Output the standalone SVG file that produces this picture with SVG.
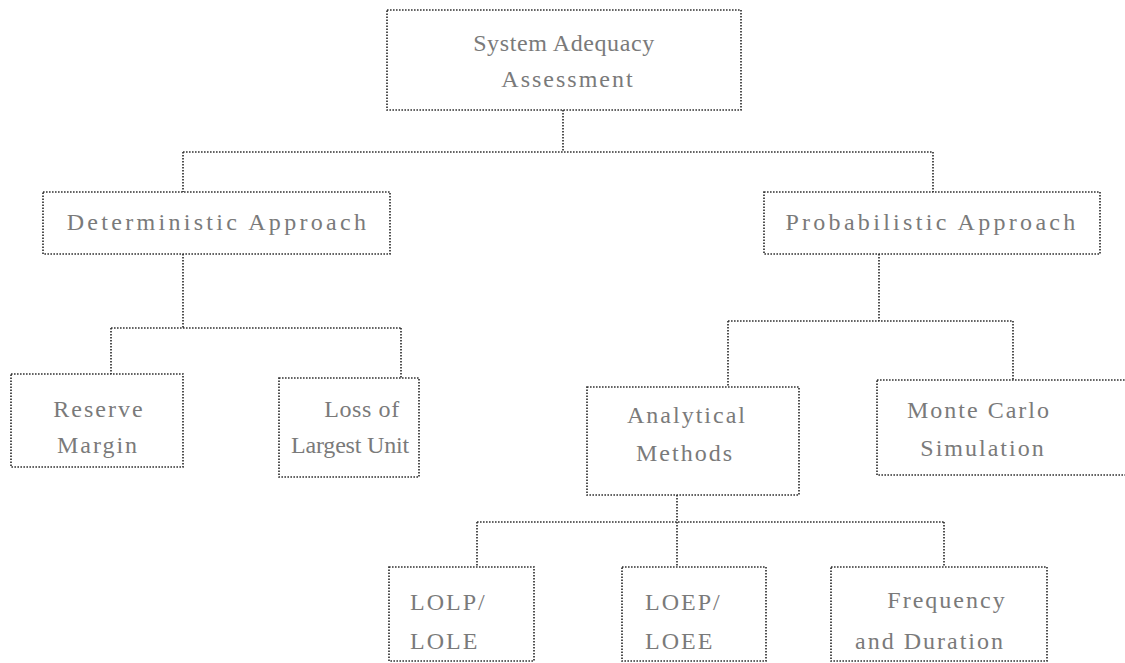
<svg xmlns="http://www.w3.org/2000/svg" width="1125" height="663" viewBox="0 0 1125 663">
<style>
.box{fill:#fff;stroke:#333;stroke-width:1.7;stroke-dasharray:1.6 1.4}
.con{fill:none;stroke:#333;stroke-width:1.7;stroke-dasharray:1.6 1.4}
.t{font-family:"Liberation Serif","Times New Roman",serif;font-size:24px;letter-spacing:2px;fill:#7a7a7a;text-anchor:middle}
.w{letter-spacing:3.3px}
.n{letter-spacing:0.6px}
.z{letter-spacing:-0.2px}
.s{text-anchor:start}
</style>
<rect width="1125" height="663" fill="#fff"/>
<g id="connectors">
<path class="con" d="M563,110 V152 M183,152 H933 M183,152 V192 M933,152 V192"/>
<path class="con" d="M183,254 V328 M111,328 H401 M111,328 V374 M401,328 V378"/>
<path class="con" d="M879,254 V321 M728,321 H1013 M728,321 V387 M1013,321 V380"/>
<path class="con" d="M677,495 V522 M477,522 H944 M477,522 V567 M677,522 V567 M944,522 V567"/>
</g>
<g id="n-system">
<rect class="box" x="387" y="10" width="354" height="100"/>
<text class="t n" x="564" y="51">System Adequacy</text>
<text class="t" x="568" y="87">Assessment</text>
</g>
<g id="n-deterministic">
<rect class="box" x="43" y="192" width="347" height="62"/>
<text class="t w" x="218" y="230">Deterministic Approach</text>
</g>
<g id="n-probabilistic">
<rect class="box" x="764" y="192" width="336" height="62"/>
<text class="t w" x="932" y="230">Probabilistic Approach</text>
</g>
<g id="n-reserve">
<rect class="box" x="11" y="374" width="172" height="93"/>
<text class="t" x="99" y="417">Reserve</text>
<text class="t" x="98" y="453">Margin</text>
</g>
<g id="n-loss">
<rect class="box" x="279" y="378" width="140" height="99"/>
<text class="t n" x="362" y="417">Loss of</text>
<text class="t z" x="350" y="453">Largest Unit</text>
</g>
<g id="n-analytical">
<rect class="box" x="587" y="387" width="212" height="108"/>
<text class="t" x="687" y="423">Analytical</text>
<text class="t" x="685" y="461">Methods</text>
</g>
<g id="n-montecarlo">
<rect class="box" x="877" y="380" width="260" height="95"/>
<text class="t" x="979" y="418">Monte Carlo</text>
<text class="t" x="983" y="456">Simulation</text>
</g>
<g id="n-lolp">
<rect class="box" x="389" y="567" width="145" height="94"/>
<text class="t s" x="410" y="610">LOLP/</text>
<text class="t s" x="410" y="649">LOLE</text>
</g>
<g id="n-loep">
<rect class="box" x="622" y="567" width="144" height="94"/>
<text class="t s" x="645" y="610">LOEP/</text>
<text class="t s" x="645" y="649">LOEE</text>
</g>
<g id="n-frequency">
<rect class="box" x="831" y="567" width="216" height="94"/>
<text class="t" x="947" y="608">Frequency</text>
<text class="t" x="930" y="649">and Duration</text>
</g>
</svg>
